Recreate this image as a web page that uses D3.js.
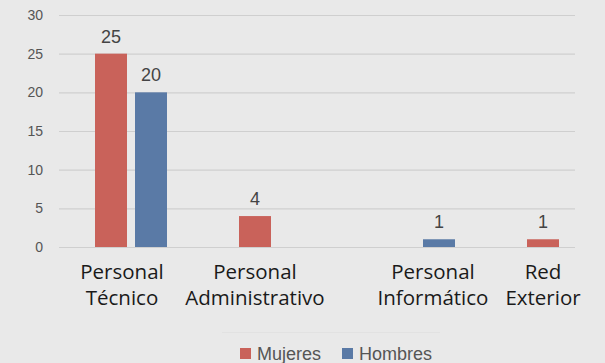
<!DOCTYPE html>
<html>
<head>
<meta charset="utf-8">
<script src="https://cdn.jsdelivr.net/npm/d3@7"></script>
<style>
  html, body { margin: 0; padding: 0; background: #e9e9e9; }
  svg { display: block; }
</style>
</head>
<body>
<svg id="chart" width="605" height="363"></svg>
<script>
// Staff by area, split by gender
const categories = ["Personal Técnico", "Personal Administrativo", "Personal Informático", "Red Exterior"];
const categoryLines = [["Personal", "Técnico"], ["Personal", "Administrativo"], ["Personal", "Informático"], ["Red", "Exterior"]];
const seriesNames = ["Mujeres", "Hombres"];
const mujeres = [25, 4, 0, 1];
const hombres = [20, 0, 1, 0];
const yTicks = [0, 5, 10, 15, 20, 25, 30];

const colors = { Mujeres: "#c9625a", Hombres: "#5a7aa6" };
const seriesValues = { Mujeres: mujeres, Hombres: hombres };

const svg = d3.select("#chart");
const gridLeft = 59, gridRight = 575;

const y = d3.scaleLinear().domain([0, 30]).range([247, 15]);

const x0 = d3.scaleBand().domain(categories).range([59, 635])
  .paddingInner(0.5).paddingOuter(0.25);
const x1 = d3.scaleBand().domain(seriesNames).range([0, x0.bandwidth()])
  .paddingInner(0.2);

// horizontal gridlines and y tick labels
const yAxis = d3.axisLeft(y).tickValues(yTicks).tickSize(-(gridRight - gridLeft)).tickPadding(16);
const gy = svg.append("g").attr("transform", `translate(${gridLeft},0)`).call(yAxis);
gy.select(".domain").remove();
gy.selectAll(".tick line").attr("stroke", "#cfcfcf").attr("stroke-width", 1.2);
gy.selectAll(".tick text")
  .attr("fill", "#555")
  .style("font-family", "Liberation Sans, Arial, sans-serif")
  .style("font-size", "14px");

// bars with value labels (zero values are not drawn)
const rows = categories.map((c, i) => ({ cat: c, vals: seriesNames.map(s => ({ s, v: seriesValues[s][i] })) }));
const groups = svg.append("g").selectAll("g").data(rows).join("g")
  .attr("transform", d => `translate(${x0(d.cat)},0)`);

groups.selectAll("rect").data(d => d.vals.filter(e => e.v > 0)).join("rect")
  .attr("x", d => x1(d.s))
  .attr("width", x1.bandwidth())
  .attr("y", d => y(d.v))
  .attr("height", d => y(0) - y(d.v))
  .attr("fill", d => colors[d.s]);

groups.selectAll("text.val").data(d => d.vals.filter(e => e.v > 0)).join("text")
  .attr("class", "val")
  .attr("x", d => x1(d.s) + x1.bandwidth() / 2)
  .attr("y", d => y(d.v) - 11)
  .attr("text-anchor", "middle")
  .attr("fill", "#444")
  .style("font-family", "Liberation Sans, Arial, sans-serif")
  .style("font-size", "18px")
  .text(d => d.v);

// category labels
const labelOffsets = [-9, -20, 14, -20];
svg.append("g").selectAll("text").data(categories).join("text")
  .attr("x", (d, i) => x0(d) + x0.bandwidth() / 2 + labelOffsets[i])
  .attr("y", 279)
  .attr("text-anchor", "middle")
  .attr("fill", "#1a1a1a")
  .style("font-family", "Open Sans, Noto Sans, sans-serif")
  .style("font-size", "20.5px")
  .each(function(d, i) {
    const t = d3.select(this);
    categoryLines[i].forEach((line, k) => {
      t.append("tspan")
        .attr("x", t.attr("x"))
        .attr("dy", k === 0 ? 0 : 26)
        .text(line);
    });
  });

// faint rule above the legend
svg.append("line")
  .attr("x1", 222).attr("x2", 440).attr("y1", 332.5).attr("y2", 332.5)
  .attr("stroke", "#e2e2e2").attr("stroke-width", 1);

// legend
const legendX = [240, 342];
const legend = svg.append("g").selectAll("g").data(seriesNames).join("g")
  .attr("transform", (d, i) => `translate(${legendX[i]},348)`);
legend.append("rect").attr("width", 11).attr("height", 11).attr("fill", d => colors[d]);
legend.append("text")
  .attr("x", 17).attr("y", 12)
  .attr("fill", "#555")
  .style("font-family", "Liberation Sans, Arial, sans-serif")
  .style("font-size", "18px")
  .text(d => d);
</script>
</body>
</html>
